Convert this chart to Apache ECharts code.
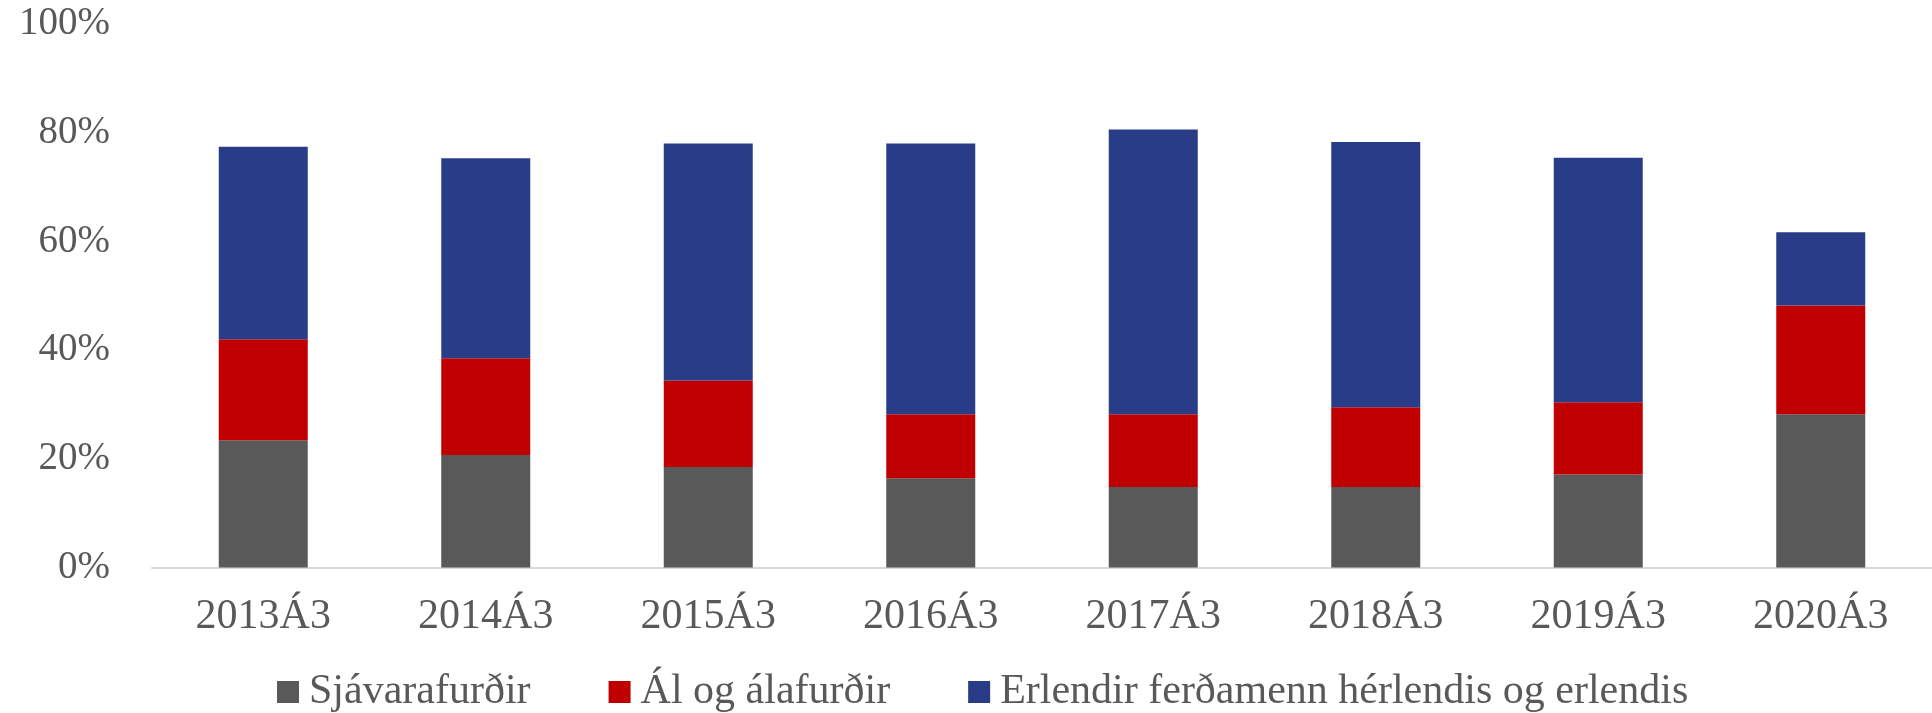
<!DOCTYPE html>
<html>
<head>
<meta charset="utf-8">
<script src="https://cdn.jsdelivr.net/npm/echarts@6/dist/echarts.min.js"></script>
<style>
html,body{margin:0;padding:0;background:#fff;}
#chart{width:1932px;height:713px;}
</style>
</head>
<body>
<div id="chart"></div>
<script>
const categories = ['2013Á3','2014Á3','2015Á3','2016Á3','2017Á3','2018Á3','2019Á3','2020Á3'];
const seriesNames = ['Sjávarafurðir','Ál og álafurðir','Erlendir ferðamenn hérlendis og erlendis'];
const sjavarafurdir = [23.4, 20.7, 18.5, 16.4, 14.8, 14.8, 17.1, 28.2];
const al = [18.6, 17.8, 15.9, 11.8, 13.4, 14.7, 13.3, 20.0];
const ferdamenn = [35.4, 36.8, 43.6, 49.8, 52.4, 48.8, 45.0, 13.5];
const yTicks = [0, 20, 40, 60, 80, 100];

const font = 'Liberation Serif';
const textColor = '#595959';
const chart = echarts.init(document.getElementById('chart'));
chart.setOption({
  animation: false,
  backgroundColor: '#fff',
  grid: { left: 152, top: 24, width: 1782, bottom: 145.5, containLabel: false },
  legend: {
    data: seriesNames,
    left: 272, top: 666,
    icon: 'rect', itemWidth: 22, itemHeight: 22, itemGap: 78,
    textStyle: { fontFamily: font, fontSize: 42, color: textColor, padding: [0,0,0,5] }
  },
  xAxis: {
    type: 'category', data: categories,
    axisTick: { show: false },
    axisLine: { lineStyle: { color: '#d9d9d9', width: 2 } },
    axisLabel: { fontFamily: font, fontSize: 42, color: textColor, margin: 28 }
  },
  yAxis: {
    type: 'value', min: yTicks[0], max: yTicks[yTicks.length-1], interval: 20,
    splitLine: { show: false },
    axisLine: { show: false }, axisTick: { show: false },
    axisLabel: { fontFamily: font, fontSize: 39, color: textColor, margin: 42, formatter: '{value}%' }
  },
  series: [
    { name: seriesNames[0], type: 'bar', stack: 's', data: sjavarafurdir, barWidth: 89, itemStyle: { color: '#595959' } },
    { name: seriesNames[1], type: 'bar', stack: 's', data: al, barWidth: 89, itemStyle: { color: '#C00000' } },
    { name: seriesNames[2], type: 'bar', stack: 's', data: ferdamenn, barWidth: 89, itemStyle: { color: '#293C88' } }
  ]
});
</script>
</body>
</html>
